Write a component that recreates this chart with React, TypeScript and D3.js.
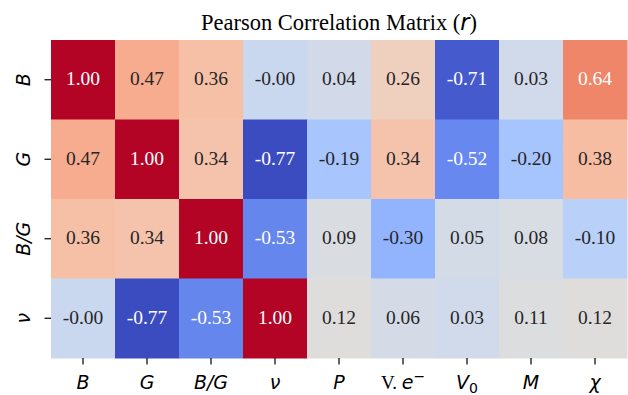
import React from "react";
import * as d3 from "d3";

const rowLabels = ["B", "G", "B/G", "ν"];
const colLabels = ["B", "G", "B/G", "ν", "P", "V.e-", "V0", "M", "χ"];
const values: number[][] = [
  [1.0, 0.47, 0.36, -0.004, 0.04, 0.26, -0.71, 0.03, 0.64],
  [0.47, 1.0, 0.34, -0.77, -0.19, 0.34, -0.52, -0.2, 0.38],
  [0.36, 0.34, 1.0, -0.53, 0.09, -0.3, 0.05, 0.08, -0.1],
  [-0.004, -0.77, -0.53, 1.0, 0.12, 0.06, 0.03, 0.11, 0.12],
];
const title = "Pearson Correlation Matrix (";

// matplotlib coolwarm control points (Moreland)
const coolwarmStops: [number, number, number][] = [
  [59, 76, 192], [68, 90, 204], [77, 104, 215], [87, 117, 225], [98, 130, 234],
  [108, 142, 241], [119, 154, 247], [130, 165, 251], [141, 176, 254], [152, 185, 255],
  [163, 194, 255], [174, 201, 253], [184, 208, 249], [194, 213, 244], [204, 217, 238],
  [213, 219, 230], [221, 221, 221], [229, 216, 209], [236, 211, 197], [241, 204, 185],
  [245, 196, 173], [247, 187, 160], [247, 177, 148], [247, 166, 135], [244, 154, 123],
  [241, 141, 111], [236, 127, 99], [229, 112, 88], [222, 96, 77], [213, 80, 66],
  [203, 62, 56], [192, 40, 47], [180, 4, 38],
];

function coolwarm(t: number): [number, number, number] {
  const n = coolwarmStops.length - 1;
  const x = Math.max(0, Math.min(1, t)) * n;
  const i = Math.min(n - 1, Math.floor(x));
  const f = x - i;
  const a = coolwarmStops[i], b = coolwarmStops[i + 1];
  return [a[0] + (b[0] - a[0]) * f, a[1] + (b[1] - a[1]) * f, a[2] + (b[2] - a[2]) * f];
}

function luminance(c: [number, number, number]) {
  const lin = c.map((v) => {
    const s = v / 255;
    return s <= 0.03928 ? s / 12.92 : Math.pow((s + 0.055) / 1.055, 2.4);
  });
  return 0.2126 * lin[0] + 0.7152 * lin[1] + 0.0722 * lin[2];
}

const W = 628, H = 395;
const left = 51, right = 627, top = 40, bottom = 358;

export default function App() {
  const flat = values.flat();
  const vmin = d3.min(flat)!, vmax = d3.max(flat)!;
  const norm = d3.scaleLinear().domain([vmin, vmax]).range([0, 1]);
  const x = d3.scaleBand<number>().domain(d3.range(colLabels.length)).range([left, right]);
  const y = d3.scaleBand<number>().domain(d3.range(rowLabels.length)).range([top, bottom]);
  const serif = "'Liberation Serif', 'Times New Roman', serif";
  const sans = "'DejaVu Sans', sans-serif";
  const annotSize = 19.5;
  const tickSize = 19;

  const renderCol = (lab: string) => {
    if (lab === "V.e-")
      return (
        <>
          <tspan fontFamily={serif} fontStyle="normal">V. </tspan>
          <tspan>e</tspan>
          <tspan fontStyle="normal" fontSize={14} dy={-8}>−</tspan>
        </>
      );
    if (lab === "V0")
      return (
        <>
          <tspan>V</tspan>
          <tspan fontStyle="normal" fontSize={14} dy={4}>0</tspan>
        </>
      );
    return lab;
  };

  return (
    <svg width={W} height={H} style={{ position: "absolute", left: 0, top: 0, background: "#fff" }}>
      <text x={(left + right) / 2} y={30} textAnchor="middle" fontFamily={serif} fontSize={22.5} fill="#000">
        {title}
        <tspan fontFamily={sans} fontStyle="italic">r</tspan>
        {")"}
      </text>
      {values.map((row, i) =>
        row.map((v, j) => {
          const c = coolwarm(norm(v));
          const fill = d3.rgb(c[0], c[1], c[2]).formatHex();
          const tc = luminance(c) > 0.408 ? "#262626" : "#ffffff";
          const cx = x(j)! + x.bandwidth() / 2;
          const cy = y(i)! + y.bandwidth() / 2;
          return (
            <g key={`${i}-${j}`}>
              <rect x={x(j)!} y={y(i)!} width={x.bandwidth() + 0.5} height={y.bandwidth() + 0.5} fill={fill} />
              <text x={cx} y={cy + annotSize * 0.27} textAnchor="middle" fontFamily={serif} fontSize={annotSize} fill={tc}>
                {v.toFixed(2)}
              </text>
            </g>
          );
        })
      )}
      {colLabels.map((lab, j) => {
        const cx = x(j)! + x.bandwidth() / 2;
        return (
          <g key={`c${j}`}>
            <line x1={cx} x2={cx} y1={bottom} y2={bottom + 6.5} stroke="#000" strokeWidth={1.2} />
            <text x={cx} y={389} textAnchor="middle" fontFamily={sans} fontStyle="italic" fontSize={tickSize} fill="#000">
              {renderCol(lab)}
            </text>
          </g>
        );
      })}
      {rowLabels.map((lab, i) => {
        const cy = y(i)! + y.bandwidth() / 2;
        return (
          <g key={`r${i}`}>
            <line x1={left - 6.5} x2={left} y1={cy} y2={cy} stroke="#000" strokeWidth={1.2} />
            <text
              transform={`translate(29.5,${cy}) rotate(-90)`}
              textAnchor="middle"
              fontFamily={sans}
              fontStyle="italic"
              fontSize={tickSize}
              fill="#000"
            >
              {lab}
            </text>
          </g>
        );
      })}
    </svg>
  );
}
